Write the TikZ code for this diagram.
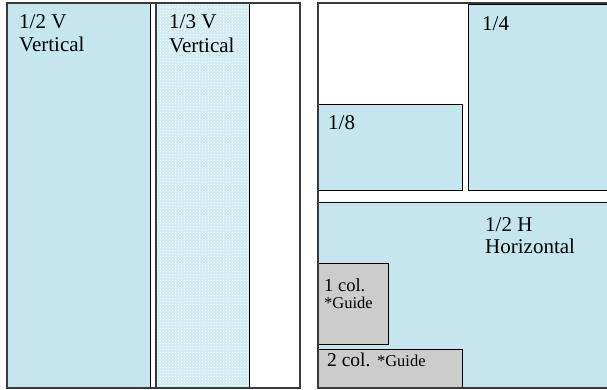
\documentclass[tikz,border=0pt]{standalone}
\usepackage{fontspec}
\setmainfont{Liberation Serif}
\usetikzlibrary{patterns}
\definecolor{boxblue}{HTML}{C6E6EF}
\definecolor{dotblue}{HTML}{D0EAF2}
\definecolor{boxgray}{HTML}{CCCCCC}
\definecolor{pageline}{HTML}{3A3A3A}
\tikzset{
  page/.style={draw=pageline, line width=1.6pt},
  adbox/.style={draw=black, line width=0.9pt, fill=boxblue},
  dotbox/.style={draw=black, line width=0.9pt, fill=dotblue},
  graybox/.style={draw=black, line width=0.9pt, fill=boxgray},
  lbl/.style={anchor=base west, inner sep=0pt, font=\fontsize{21}{24}\selectfont},
  small/.style={anchor=base west, inner sep=0pt, font=\fontsize{16.5}{19}\selectfont},
}
\begin{document}
\begin{tikzpicture}[x=1pt,y=-1pt]
\useasboundingbox (0,0) rectangle (607,390);
% left page
\draw[page, fill=white] (7,3) rectangle (300,388);
\draw[adbox] (7,3) rectangle (150.5,388);
\draw[dotbox] (156,3) rectangle (249,388);
\fill[pattern=crosshatch dots, pattern color=white] (157,4) rectangle (248,387);
\draw[pageline, line width=1.6pt] (156,3) -- (156,388);
\draw[page] (7,3) rectangle (300,388);
% right page
\draw[page, fill=white] (318,3) rectangle (616,388);
\draw[adbox] (318,104) rectangle (462,190);
\draw[adbox] (468,4) rectangle (616,190);
\draw[adbox] (318,202) rectangle (616,388);
\draw[graybox] (318,263) rectangle (388,344);
\draw[graybox] (318,349) rectangle (462,388);
\draw[pageline, line width=1.6pt] (318,3) -- (318,388) -- (616,388);
% labels
\node[lbl] (a1) at (19,29) {1/2 V};
\node[lbl] (a2) at (19,52) {Vertical};
\node[lbl] (b1) at (169,29) {1/3 V};
\node[lbl] (b2) at (169,53) {Vertical};
\node[lbl] (c1) at (482,31) {1/4};
\node[lbl] (d1) at (328,130) {1/8};
\node[lbl] (e1) at (485,231) {1/2 H};
\node[lbl] (e2) at (485,253) {Horizontal};
\node[anchor=base west, inner sep=0pt, font=\fontsize{18.5}{21}\selectfont] (f1) at (324,291) {1 col.};
\node[small] (f2) at (324,308) {*Guide};
\node[anchor=base west, inner sep=0pt, font=\fontsize{19.5}{21}\selectfont] (g1) at (327,366) {2 col. {\fontsize{16.5}{19}\selectfont *Guide}};
\end{tikzpicture}
\end{document}
